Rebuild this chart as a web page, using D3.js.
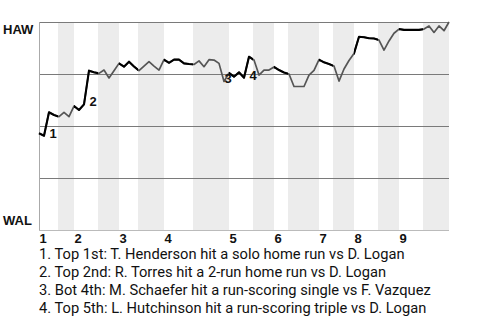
<!DOCTYPE html>
<html>
<head>
<meta charset="utf-8">
<script src="https://d3js.org/d3.v7.min.js"></script>
<style>
  body { margin: 0; background: #fff; }
  .team { font: bold 13px "Liberation Sans", Arial, sans-serif; fill: #111; }
  .inning { font: bold 13px "Liberation Sans", Arial, sans-serif; fill: #111; }
  .evt { font: bold 13px "Liberation Sans", Arial, sans-serif; fill: #111; }
  .legend { font: 14.7px Roboto, sans-serif; fill: #111; }
</style>
</head>
<body>
<svg id="chart"></svg>
<script>
// teams at top / bottom of the chart
var teams = ['HAW', 'WAL'];
var innings = ['1', '2', '3', '4', '5', '6', '7', '8', '9'];
// where each half inning starts, in plate appearance units (top 1st, bot 1st, top 2nd...)
var halfStarts = [0, 3.8, 7, 11.8, 16, 19.8, 25, 30.8, 38, 42.8, 47, 49.8, 56, 58.8, 63, 67.8, 72, 76.8];
var lastPA = 82;
// HAW win probability (%) after each plate appearance
var winProb = [
  46.5, 45.3, 56.6, 55.3, 54.5, 56.6, 54.5, 59.6, 57.7, 60.4,
  76.6, 75.8, 75.3, 76.9, 73.1, 76.6, 80.1, 78.5, 80.9, 78.6,
  76.6, 78.8, 80.9, 78.8, 76.9, 81.9, 80.4, 81.9, 81.9, 80.1,
  79.8, 79.6, 81.3, 78.5, 81.9, 81.7, 80.1, 71.4, 75.5, 73.7,
  75.8, 73.2, 83.3, 81.7, 74.5, 76.9, 76.9, 78.4, 76.9, 75.7,
  75.0, 69.0, 69.0, 69.0, 74.5, 76.7, 81.9, 80.6, 79.8, 78.8,
  71.6, 77.4, 81.5, 84.9, 92.9, 92.7, 92.2, 92.1, 91.3, 86.5,
  90.9, 94.6, 96.6, 96.2, 96.2, 96.2, 96.2, 96.6, 98.1, 95.0,
  98.1, 95.8, 100
];
// key plays: plate appearance index and description
var eventPA = [2, 10, 37, 42];
var eventText = [
  '1. Top 1st: T. Henderson hit a solo home run vs D. Logan',
  '2. Top 2nd: R. Torres hit a 2-run home run vs D. Logan',
  '3. Bot 4th: M. Schaefer hit a run-scoring single vs F. Vazquez',
  '4. Top 5th: L. Hutchinson hit a run-scoring triple vs D. Logan'
];
var gridLevels = [25, 50, 75, 100];

var width = 480, height = 320;
var plotLeft = 39, plotRight = 449, plotTop = 22, plotBottom = 230;

var svg = d3.select('#chart').attr('width', width).attr('height', height);

var x = d3.scaleLinear().domain([0, lastPA]).range([plotLeft, plotRight]);
var y = d3.scaleLinear().domain([0, 100]).range([plotBottom, plotTop]);

var halves = halfStarts.map(function(s, i) {
  return { start: s, end: i < halfStarts.length - 1 ? halfStarts[i + 1] : lastPA, isTop: i % 2 === 0 };
});

// shade the bottom halves
svg.append('g').selectAll('rect')
  .data(halves.filter(function(d) { return !d.isTop; }))
  .enter().append('rect')
  .attr('x', function(d) { return x(d.start); })
  .attr('width', function(d) { return x(d.end) - x(d.start); })
  .attr('y', plotTop)
  .attr('height', plotBottom - plotTop)
  .attr('fill', '#ececec');

// grid lines
svg.append('g').selectAll('line')
  .data(gridLevels)
  .enter().append('line')
  .attr('x1', plotLeft).attr('x2', plotRight)
  .attr('y1', function(d) { return Math.round(y(d)) + 0.5; })
  .attr('y2', function(d) { return Math.round(y(d)) + 0.5; })
  .attr('stroke', '#7a7a7a').attr('stroke-width', 1);

svg.append('line')
  .attr('x1', plotLeft).attr('x2', plotRight)
  .attr('y1', y(0) + 0.5).attr('y2', y(0) + 0.5)
  .attr('stroke', '#bbb');
svg.append('line')
  .attr('x1', plotLeft + 0.5).attr('x2', plotLeft + 0.5)
  .attr('y1', plotTop).attr('y2', plotBottom)
  .attr('stroke', '#aaa');

// clip for top halves (line drawn black there)
svg.append('clipPath').attr('id', 'topHalves')
  .selectAll('rect')
  .data(halves.filter(function(d) { return d.isTop; }))
  .enter().append('rect')
  .attr('x', function(d) { return x(d.start) - (d.start === 0 ? 5 : 0); })
  .attr('width', function(d) { return x(d.end) - x(d.start) + (d.start === 0 ? 5 : 0); })
  .attr('y', 0).attr('height', height);

var line = d3.line()
  .x(function(d, i) { return x(i); })
  .y(function(d) { return y(d); });

svg.append('path')
  .datum(winProb)
  .attr('d', line)
  .attr('fill', 'none')
  .attr('stroke', '#555')
  .attr('stroke-width', 1.7)
  .attr('stroke-linejoin', 'round');

svg.append('path')
  .datum(winProb)
  .attr('d', line)
  .attr('clip-path', 'url(#topHalves)')
  .attr('fill', 'none')
  .attr('stroke', '#000')
  .attr('stroke-width', 2.1)
  .attr('stroke-linejoin', 'round');

// event markers on the line
svg.append('g').selectAll('text')
  .data(eventPA)
  .enter().append('text')
  .attr('class', 'evt')
  .attr('x', function(d) { return x(d) + 0.5; })
  .attr('y', function(d) { return y(Math.min(winProb[d], winProb[d - 1])) + 2; })
  .text(function(d, i) { return i + 1; });

// team labels
svg.append('text').attr('class', 'team').attr('x', 3).attr('y', y(100) + 12).text(teams[0]);
svg.append('text').attr('class', 'team').attr('x', 3).attr('y', y(0) - 5).text(teams[1]);

// inning numbers
svg.append('g').selectAll('text')
  .data(innings)
  .enter().append('text')
  .attr('class', 'inning')
  .attr('x', function(d, i) { return x(halfStarts[i * 2]) + 0.5; })
  .attr('y', plotBottom + 13)
  .text(function(d) { return d; });

// legend of key plays
svg.append('g').selectAll('text')
  .data(eventText)
  .enter().append('text')
  .attr('class', 'legend')
  .attr('x', plotLeft)
  .attr('y', function(d, i) { return 259 + i * 17.9; })
  .text(function(d) { return d; });
</script>
</body>
</html>
